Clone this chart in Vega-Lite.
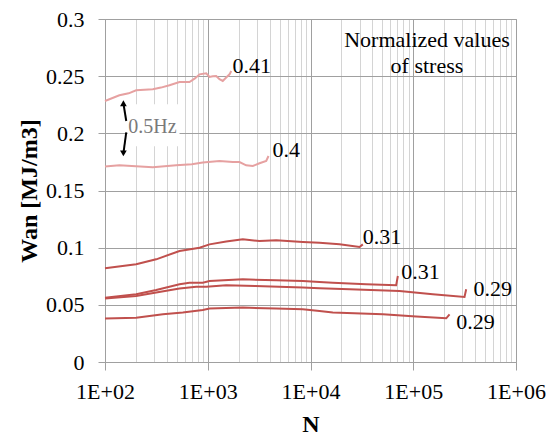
{
  "$schema": "https://vega.github.io/schema/vega-lite/v6.json",
  "width": 411,
  "height": 343,
  "autosize": {"type": "none"},
  "padding": {"left": 105, "top": 19, "right": 35, "bottom": 75},
  "background": "white",
  "config": {
    "view": {"stroke": "#a0a0a0"},
    "font": "Times New Roman, Liberation Serif, serif",
    "text": {"font": "Times New Roman, Liberation Serif, serif"},
    "axis": {"labelFont": "Times New Roman, Liberation Serif, serif", "titleFont": "Times New Roman, Liberation Serif, serif", "labelColor": "black", "titleColor": "black"}
  },
  "datasets": {
    "curves": [
      {"s": "p41", "N": 100, "W": 0.2283}, {"s": "p41", "N": 138, "W": 0.2333}, {"s": "p41", "N": 170, "W": 0.2350}, {"s": "p41", "N": 201, "W": 0.2376},
      {"s": "p41", "N": 292, "W": 0.2385}, {"s": "p41", "N": 350, "W": 0.2400}, {"s": "p41", "N": 424, "W": 0.2420}, {"s": "p41", "N": 531, "W": 0.2449},
      {"s": "p41", "N": 664, "W": 0.2449}, {"s": "p41", "N": 750, "W": 0.2480}, {"s": "p41", "N": 832, "W": 0.2516}, {"s": "p41", "N": 966, "W": 0.2525},
      {"s": "p41", "N": 1040, "W": 0.2493}, {"s": "p41", "N": 1120, "W": 0.2500}, {"s": "p41", "N": 1208, "W": 0.2502}, {"s": "p41", "N": 1301, "W": 0.2473},
      {"s": "p41", "N": 1400, "W": 0.2458}, {"s": "p41", "N": 1512, "W": 0.2488}, {"s": "p41", "N": 1630, "W": 0.2516}, {"s": "p41", "N": 1692, "W": 0.2545},

      {"s": "p40", "N": 100, "W": 0.1709}, {"s": "p40", "N": 138, "W": 0.1720}, {"s": "p40", "N": 200, "W": 0.1712}, {"s": "p40", "N": 292, "W": 0.1703},
      {"s": "p40", "N": 493, "W": 0.1720}, {"s": "p40", "N": 700, "W": 0.1730}, {"s": "p40", "N": 895, "W": 0.1744}, {"s": "p40", "N": 1301, "W": 0.1758},
      {"s": "p40", "N": 1754, "W": 0.1749}, {"s": "p40", "N": 2037, "W": 0.1749}, {"s": "p40", "N": 2366, "W": 0.1720}, {"s": "p40", "N": 2743, "W": 0.1714},
      {"s": "p40", "N": 3190, "W": 0.1738}, {"s": "p40", "N": 3707, "W": 0.1758}, {"s": "p40", "N": 3902, "W": 0.1802},

      {"s": "a31", "N": 100, "W": 0.0820}, {"s": "a31", "N": 201, "W": 0.0855}, {"s": "a31", "N": 315, "W": 0.0898}, {"s": "a31", "N": 531, "W": 0.0971},
      {"s": "a31", "N": 832, "W": 0.1000}, {"s": "a31", "N": 1040, "W": 0.1029}, {"s": "a31", "N": 1512, "W": 0.1053}, {"s": "a31", "N": 2195, "W": 0.1073},
      {"s": "a31", "N": 3190, "W": 0.1058}, {"s": "a31", "N": 4637, "W": 0.1064}, {"s": "a31", "N": 8413, "W": 0.1050}, {"s": "a31", "N": 12240, "W": 0.1044},
      {"s": "a31", "N": 19170, "W": 0.1029}, {"s": "a31", "N": 30020, "W": 0.1006}, {"s": "a31", "N": 32300, "W": 0.1029},

      {"s": "b31", "N": 100, "W": 0.0563}, {"s": "b31", "N": 201, "W": 0.0592}, {"s": "b31", "N": 315, "W": 0.0630}, {"s": "b31", "N": 531, "W": 0.0680},
      {"s": "b31", "N": 664, "W": 0.0694}, {"s": "b31", "N": 895, "W": 0.0694}, {"s": "b31", "N": 1040, "W": 0.0709}, {"s": "b31", "N": 2195, "W": 0.0723},
      {"s": "b31", "N": 4637, "W": 0.0715}, {"s": "b31", "N": 8413, "W": 0.0709}, {"s": "b31", "N": 12240, "W": 0.0700}, {"s": "b31", "N": 16480, "W": 0.0694},
      {"s": "b31", "N": 34800, "W": 0.0680}, {"s": "b31", "N": 68200, "W": 0.0671}, {"s": "b31", "N": 70800, "W": 0.0752},

      {"s": "c29", "N": 100, "W": 0.0555}, {"s": "c29", "N": 201, "W": 0.0577}, {"s": "c29", "N": 315, "W": 0.0607}, {"s": "c29", "N": 531, "W": 0.0642},
      {"s": "c29", "N": 773, "W": 0.0659}, {"s": "c29", "N": 966, "W": 0.0659}, {"s": "c29", "N": 1512, "W": 0.0671}, {"s": "c29", "N": 2900, "W": 0.0665},
      {"s": "c29", "N": 8413, "W": 0.0651}, {"s": "c29", "N": 12240, "W": 0.0645}, {"s": "c29", "N": 23990, "W": 0.0636}, {"s": "c29", "N": 73500, "W": 0.0621},
      {"s": "c29", "N": 154900, "W": 0.0592}, {"s": "c29", "N": 315400, "W": 0.0569}, {"s": "c29", "N": 327500, "W": 0.0636},

      {"s": "d29", "N": 100, "W": 0.0380}, {"s": "d29", "N": 201, "W": 0.0388}, {"s": "d29", "N": 366, "W": 0.0417}, {"s": "d29", "N": 572, "W": 0.0432},
      {"s": "d29", "N": 895, "W": 0.0455}, {"s": "d29", "N": 1040, "W": 0.0467}, {"s": "d29", "N": 2195, "W": 0.0476}, {"s": "d29", "N": 4637, "W": 0.0467},
      {"s": "d29", "N": 8413, "W": 0.0461}, {"s": "d29", "N": 12240, "W": 0.0446}, {"s": "d29", "N": 16480, "W": 0.0432}, {"s": "d29", "N": 50600, "W": 0.0417},
      {"s": "d29", "N": 106900, "W": 0.0397}, {"s": "d29", "N": 209400, "W": 0.0382}, {"s": "d29", "N": 225600, "W": 0.0417}
    ],
    "labels": [
      {"t": "0.41", "N": 1742, "W": 0.2531},
      {"t": "0.4", "N": 4266, "W": 0.1793},
      {"t": "0.31", "N": 32300, "W": 0.1036},
      {"t": "0.31", "N": 76400, "W": 0.0729},
      {"t": "0.29", "N": 385000, "W": 0.0577},
      {"t": "0.29", "N": 261800, "W": 0.0292}
    ],
    "arrows": [
      {"dir": "up", "N1": 161, "W1": 0.2108, "N2": 151, "W2": 0.2263},
      {"dir": "down", "N1": 161, "W1": 0.2009, "N2": 151, "W2": 0.1824}
    ]
  },
  "layer": [
    {
      "data": {"values": [{"N1": 166, "N2": 531, "W1": 0.1887, "W2": 0.2254}]},
      "mark": {"type": "rect", "color": "white"},
      "encoding": {
        "x": {"field": "N1", "type": "quantitative",
          "scale": {"type": "log", "domain": [100, 1000000], "nice": false},
          "axis": {
            "title": "N", "titleFontSize": 24, "titleFontWeight": "bold", "titlePadding": 10,
            "values": [100,200,300,400,500,600,700,800,900,1000,2000,3000,4000,5000,6000,7000,8000,9000,10000,20000,30000,40000,50000,60000,70000,80000,90000,100000,200000,300000,400000,500000,600000,700000,800000,900000,1000000],
            "labelExpr": "abs(log(datum.value)/LN10 - round(log(datum.value)/LN10)) < 0.001 ? '1E+0' + round(log(datum.value)/LN10) : ''",
            "labelFontSize": 22, "labelPadding": 11, "labelFlush": false, "labelOverlap": false,
            "tickSize": 8,
            "tickColor": {"condition": {"test": "abs(log(datum.value)/LN10 - round(log(datum.value)/LN10)) < 0.001", "value": "#a0a0a0"}, "value": "transparent"},
            "gridColor": {"condition": {"test": "abs(log(datum.value)/LN10 - round(log(datum.value)/LN10)) < 0.001", "value": "#a0a0a0"}, "value": "#d4d4d4"},
            "gridOpacity": 1,
            "domainColor": "#a0a0a0"
          }
        },
        "x2": {"field": "N2"},
        "y": {"field": "W1", "type": "quantitative",
          "scale": {"domain": [0, 0.3], "nice": false},
          "axis": {
            "title": "Wan [MJ/m3]", "titleFontSize": 24, "titleFontWeight": "bold", "titlePadding": 4,
            "values": [0, 0.05, 0.1, 0.15, 0.2, 0.25, 0.3], "format": ".2~f",
            "labelFontSize": 22, "labelPadding": 14, "labelFlush": false,
            "tickSize": 7, "tickColor": "#a0a0a0", "gridColor": "#a0a0a0", "domainColor": "#a0a0a0"
          }
        },
        "y2": {"field": "W2"}
      }
    },
    {
      "data": {"name": "curves"},
      "mark": {"type": "line", "strokeWidth": 2},
      "encoding": {
        "x": {"field": "N", "type": "quantitative"},
        "y": {"field": "W", "type": "quantitative"},
        "color": {"field": "s", "type": "nominal", "legend": null,
          "scale": {"domain": ["p41", "p40", "a31", "b31", "c29", "d29"], "range": ["#e6a1a1", "#e6a1a1", "#c0504d", "#c0504d", "#c0504d", "#c0504d"]}}
      }
    },
    {
      "data": {"name": "labels"},
      "mark": {"type": "text", "align": "left", "baseline": "alphabetic", "fontSize": 22, "font": "Times New Roman, Liberation Serif, serif", "color": "black"},
      "encoding": {
        "x": {"field": "N", "type": "quantitative"},
        "y": {"field": "W", "type": "quantitative"},
        "text": {"field": "t"}
      }
    },
    {
      "data": {"values": [{"t": "Normalized values\nof stress", "N": 136000, "W": 0.2759}]},
      "mark": {"type": "text", "align": "center", "baseline": "alphabetic", "fontSize": 22, "lineHeight": 26, "lineBreak": "\n", "font": "Times New Roman, Liberation Serif, serif", "color": "black"},
      "encoding": {
        "x": {"field": "N", "type": "quantitative"},
        "y": {"field": "W", "type": "quantitative"},
        "text": {"field": "t"}
      }
    },
    {
      "data": {"values": [{"t": "0.5Hz", "N": 290, "W": 0.2006}]},
      "mark": {"type": "text", "align": "center", "baseline": "alphabetic", "fontSize": 20, "font": "Times New Roman, Liberation Serif, serif", "color": "#7a7a7a"},
      "encoding": {
        "x": {"field": "N", "type": "quantitative"},
        "y": {"field": "W", "type": "quantitative"},
        "text": {"field": "t"}
      }
    },
    {
      "data": {"name": "arrows"},
      "mark": {"type": "rule", "color": "black", "strokeWidth": 2},
      "encoding": {
        "x": {"field": "N1", "type": "quantitative"},
        "y": {"field": "W1", "type": "quantitative"},
        "x2": {"field": "N2"},
        "y2": {"field": "W2"}
      }
    },
    {
      "data": {"name": "arrows"},
      "mark": {"type": "point", "filled": true, "color": "black", "size": 45, "opacity": 1},
      "encoding": {
        "x": {"field": "N2", "type": "quantitative"},
        "y": {"field": "W2", "type": "quantitative"},
        "shape": {"field": "dir", "type": "nominal", "legend": null,
          "scale": {"domain": ["up", "down"], "range": ["triangle-up", "triangle-down"]}}
      }
    }
  ]
}
